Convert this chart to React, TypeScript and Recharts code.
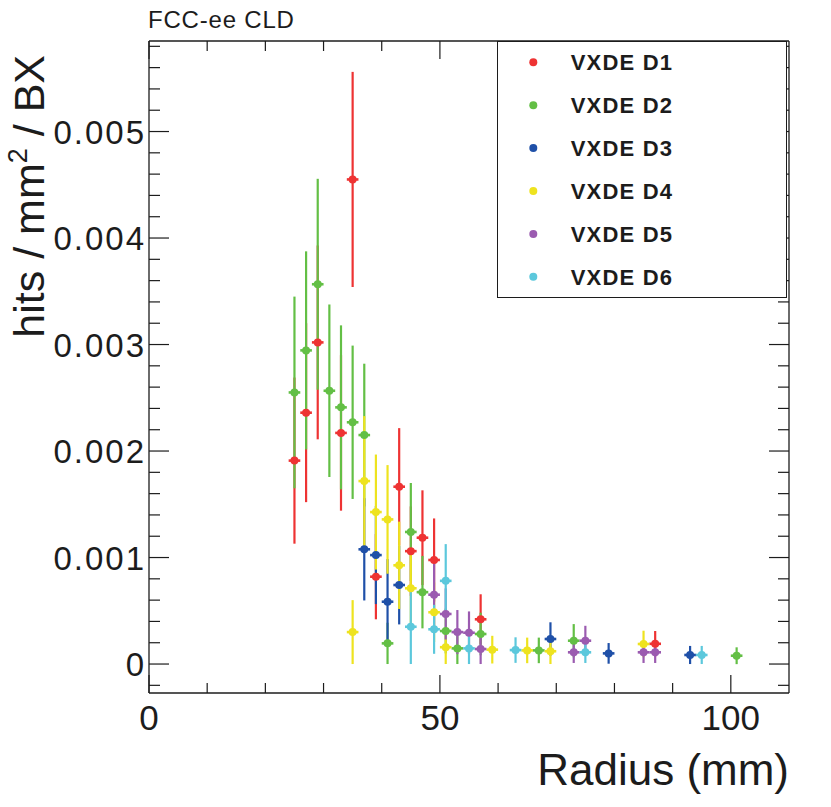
import React from 'react';
import { ScatterChart, Scatter, XAxis, YAxis, ErrorBar, Legend } from 'recharts';

const FONT = '"Liberation Sans", Arial, Helvetica, sans-serif';
const INK = '#1c1c1c';

// chart size; axes take 1px each, so the plot frame is 149..789 x 41..693
const W = 831;
const H = 807;
const M = { top: 40, right: 41, bottom: 113, left: 148 };

const seriesNames = ['VXDE D1', 'VXDE D2', 'VXDE D3', 'VXDE D4', 'VXDE D5', 'VXDE D6'];
const seriesColors = ['#ee3333', '#63bf45', '#1f50a8', '#eee31f', '#9b5bb0', '#5cc8dc'];

// [radius (mm), hits / mm2 / BX, error]
const d1 = [
  [25, 0.00191, 0.00078], [27, 0.00236, 0.00084], [29, 0.00302, 0.00091], [33, 0.00217, 0.00073],
  [35, 0.00455, 0.00101], [39, 0.00082, 0.0004], [43, 0.001665, 0.00055], [45, 0.00106, 0.00042],
  [47, 0.001186, 0.000445], [49, 0.000977, 0.00039], [57, 0.00042, 0.000235], [87, 0.00019, 0.00012],
];
const d2 = [
  [25, 0.00255, 0.0009], [27, 0.002945, 0.00093], [29, 0.003566, 0.00099], [31, 0.002566, 0.00081],
  [33, 0.00241, 0.00077], [35, 0.00227, 0.00072], [37, 0.00215, 0.00067], [41, 0.000194, 0.000194],
  [45, 0.00124, 0.00046], [47, 0.000675, 0.00034], [51, 0.00031, 0.00021], [53, 0.000147, 0.000147],
  [57, 0.000282, 0.0002], [67, 0.000128, 0.00012], [73, 0.000219, 0.000156], [101, 0.000078, 0.000079],
];
const d3 = [
  [37, 0.001077, 0.00048], [39, 0.001023, 0.00046], [41, 0.000585, 0.0004], [43, 0.000742, 0.00037],
  [69, 0.000235, 0.000157], [79, 0.0001, 0.000097], [93, 0.000085, 0.000085],
];
const d4 = [
  [35, 0.0003, 0.0003], [37, 0.001718, 0.00061], [39, 0.001427, 0.00054], [41, 0.001358, 0.00051],
  [43, 0.000927, 0.00041], [45, 0.000711, 0.00036], [49, 0.000486, 0.00028], [51, 0.000158, 0.000158],
  [59, 0.000135, 0.00013], [65, 0.000128, 0.00012], [69, 0.00012, 0.00012], [85, 0.000188, 0.000125],
];
const d5 = [
  [49, 0.000651, 0.0003], [51, 0.00047, 0.00024], [53, 0.0003, 0.000207], [55, 0.000294, 0.0002],
  [57, 0.000141, 0.000141], [73, 0.00011, 0.0001], [75, 0.000219, 0.00014], [85, 0.00011, 0.0001],
  [87, 0.00011, 0.0001],
];
const d6 = [
  [45, 0.00035, 0.00035], [49, 0.000326, 0.00023], [51, 0.000781, 0.000345], [55, 0.000147, 0.000147],
  [63, 0.000131, 0.00012], [75, 0.00011, 0.0001], [95, 0.000085, 0.000085],
];
const seriesPoints = [d1, d2, d3, d4, d5, d6];
const binHalfWidth = 1;

const xDomain: [number, number] = [0, 110];
const yDomain: [number, number] = [-0.000272, 0.00585];
const xTicks = [0, 10, 20, 30, 40, 50, 60, 70, 80, 90, 100];
const xMajor = [0, 50, 100];
const yStep = 0.0002;
const yTicks: number[] = [];
for (let i = -1; i <= 29; i++) yTicks.push(i * yStep);

const isYMajor = (v: number) => Math.round(v / yStep) % 5 === 0;
const fmtY = (v: number) => (Math.abs(v) < 1e-12 ? '0' : v.toFixed(3));

const BottomTick = ({ x, y, payload }: any) => {
  const major = xMajor.includes(payload.value);
  return (
    <g>
      <line x1={x} x2={x} y1={y} y2={y - (major ? 18 : 10)} stroke={INK} strokeWidth={1.2} />
      {major && (
        <text x={x} y={y + 37} textAnchor="middle" fontSize={35} fontFamily={FONT} fill={INK}>
          {payload.value}
        </text>
      )}
    </g>
  );
};

const TopTick = ({ x, y, payload }: any) => {
  const major = xMajor.includes(payload.value);
  return <line x1={x} x2={x} y1={y} y2={y + (major ? 18 : 10)} stroke={INK} strokeWidth={1.2} />;
};

const LeftTick = ({ x, y, payload }: any) => {
  const major = isYMajor(payload.value);
  return (
    <g>
      <line x1={x} x2={x + (major ? 20 : 11)} y1={y} y2={y} stroke={INK} strokeWidth={1.2} />
      {major && (
        <text x={x - 3} y={y + 12} textAnchor="end" fontSize={33} letterSpacing={2} fontFamily={FONT} fill={INK}>
          {fmtY(payload.value)}
        </text>
      )}
    </g>
  );
};

const RightTick = ({ x, y, payload }: any) => {
  const major = isYMajor(payload.value);
  return <line x1={x} x2={x - (major ? 20 : 11)} y1={y} y2={y} stroke={INK} strokeWidth={1.2} />;
};

const XTitle = () => (
  <text x={789} y={785} textAnchor="end" fontSize={44} fontFamily={FONT} fill={INK}>
    Radius (mm)
  </text>
);

const YTitle = () => (
  <text
    x={43.5}
    y={55}
    transform="rotate(-90 43.5 55)"
    textAnchor="end"
    fontSize={43}
    fontFamily={FONT}
    fill={INK}
  >
    hits / mm
    <tspan fontSize={27} dy={-17}>2</tspan>
    <tspan dy={17}> / BX</tspan>
  </text>
);

const TopTitle = () => (
  <text x={148} y={28} fontSize={24} letterSpacing={0.8} fontFamily={FONT} fill={INK}>
    FCC-ee CLD
  </text>
);

const LegendBox = ({ payload }: any) => {
  const rows = payload || [];
  return (
    <div
      style={{
        width: 290,
        height: 257,
        boxSizing: 'border-box',
        border: `1px solid ${INK}`,
        background: '#fff',
      }}
    >
      <svg width={288} height={255}>
        {rows.map((entry: any, i: number) => {
          const cy = 20.3 + i * 42.9;
          return (
            <g key={`leg-${i}`}>
              <circle cx={35.3} cy={cy} r={4} fill={entry.color} />
              <text
                x={72.7}
                y={cy + 8}
                fontSize={22}
                fontWeight={700}
                letterSpacing={1.2}
                fontFamily={FONT}
                fill={INK}
              >
                {entry.value}
              </text>
            </g>
          );
        })}
      </svg>
    </div>
  );
};

const Dot = (color: string) => (props: any) => {
  if (props.cx == null || props.cy == null) return <g />;
  return <circle cx={props.cx} cy={props.cy} r={4} fill={color} />;
};

export default function App() {
  const series = seriesPoints.map((pts, i) => ({
    name: seriesNames[i],
    color: seriesColors[i],
    data: pts.map(([x, y, ey]) => ({ x, y, ey, ex: binHalfWidth })),
  }));

  return (
    <div style={{ position: 'absolute', left: 0, top: 0, width: W, height: H, background: '#fff' }}>
      <ScatterChart width={W} height={H} margin={M}>
        <XAxis
          xAxisId="b"
          type="number"
          dataKey="x"
          domain={xDomain}
          ticks={xTicks}
          interval={0}
          height={1}
          tickSize={0}
          tickMargin={0}
          tickLine={false}
          tick={<BottomTick />}
          axisLine={{ stroke: INK, strokeWidth: 1.3 }}
          allowDataOverflow
          label={<XTitle />}
        />
        <XAxis
          xAxisId="t"
          orientation="top"
          type="number"
          dataKey="x"
          domain={xDomain}
          ticks={xTicks}
          interval={0}
          height={1}
          tickSize={0}
          tickMargin={0}
          tickLine={false}
          tick={<TopTick />}
          axisLine={{ stroke: INK, strokeWidth: 1.3 }}
          allowDataOverflow
          label={<TopTitle />}
        />
        <YAxis
          yAxisId="l"
          type="number"
          dataKey="y"
          domain={yDomain}
          ticks={yTicks}
          interval={0}
          width={1}
          tickSize={0}
          tickMargin={0}
          tickLine={false}
          tick={<LeftTick />}
          axisLine={{ stroke: INK, strokeWidth: 1.3 }}
          allowDataOverflow
          label={<YTitle />}
        />
        <YAxis
          yAxisId="r"
          orientation="right"
          type="number"
          dataKey="y"
          domain={yDomain}
          ticks={yTicks}
          interval={0}
          width={1}
          tickSize={0}
          tickMargin={0}
          tickLine={false}
          tick={<RightTick />}
          axisLine={{ stroke: INK, strokeWidth: 1.3 }}
          allowDataOverflow
        />
        {series.map((s) => (
          <Scatter
            key={s.name}
            name={s.name}
            data={s.data}
            xAxisId="b"
            yAxisId="l"
            fill={s.color}
            shape={Dot(s.color)}
            isAnimationActive={false}
          >
            <ErrorBar dataKey="ey" direction="y" width={0} stroke={s.color} strokeWidth={2.2} isAnimationActive={false} />
            <ErrorBar dataKey="ex" direction="x" width={0} stroke={s.color} strokeWidth={2.6} isAnimationActive={false} />
          </Scatter>
        ))}
        <Legend
          content={<LegendBox />}
          layout="vertical"
          align="center"
          verticalAlign="middle"
          wrapperStyle={{ left: 497, top: 41, width: 290, height: 257 }}
        />
      </ScatterChart>
    </div>
  );
}
